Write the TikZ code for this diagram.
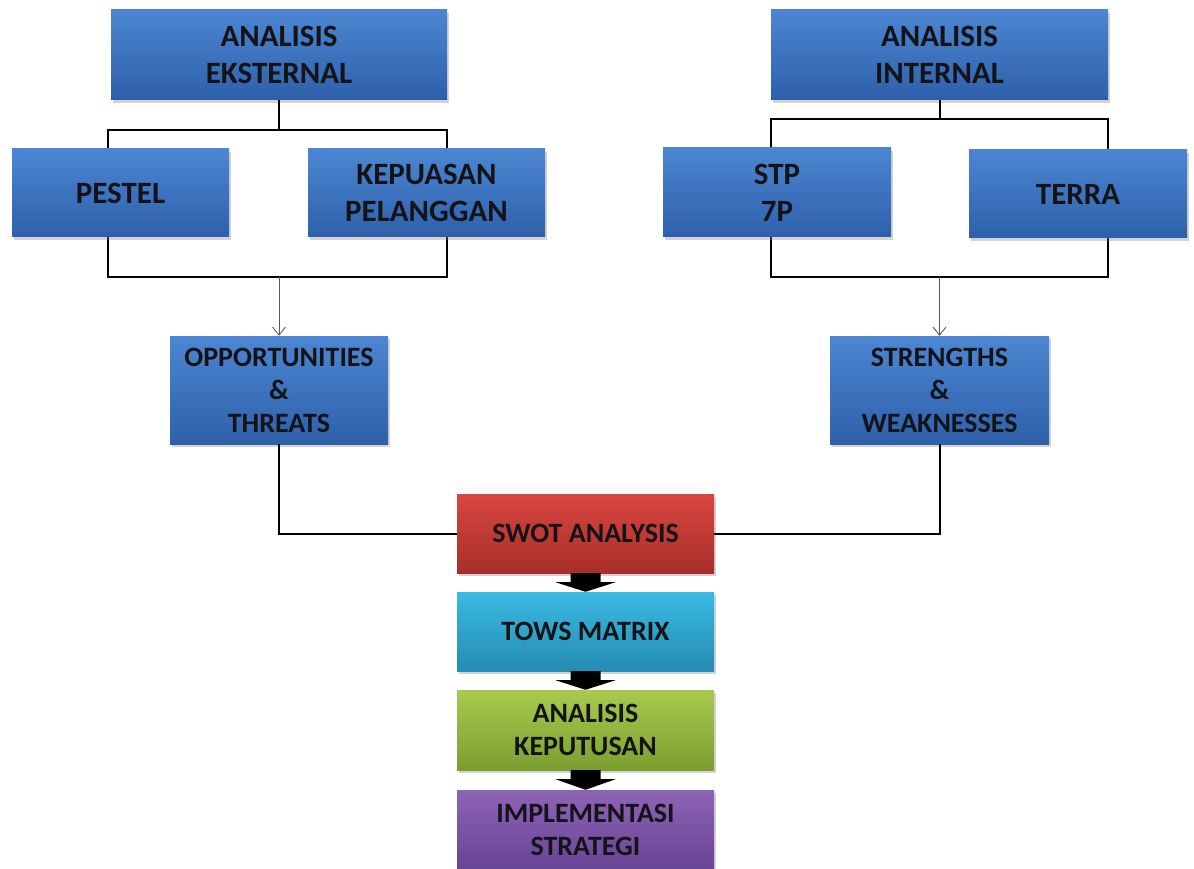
\documentclass[tikz,border=0pt]{standalone}
\usepackage{fontspec}
\setmainfont{Carlito}
\usetikzlibrary{arrows.meta,shadows,shadings}
\definecolor{bluetop}{RGB}{76,134,210}
\definecolor{bluebot}{RGB}{46,96,170}
\definecolor{redtop}{RGB}{216,70,64}
\definecolor{redbot}{RGB}{168,46,42}
\definecolor{cyantop}{RGB}{58,186,226}
\definecolor{cyanbot}{RGB}{38,140,178}
\definecolor{greentop}{RGB}{168,202,78}
\definecolor{greenbot}{RGB}{124,158,48}
\definecolor{purptop}{RGB}{142,100,182}
\definecolor{purpbot}{RGB}{104,68,148}
\definecolor{txt}{RGB}{20,20,24}
\definecolor{thin}{RGB}{90,90,90}
\begin{document}
\begin{tikzpicture}[x=1pt,y=-1pt,
  box/.style={rectangle, draw=none, align=center, inner sep=0pt,
    text=txt, font=\fontsize{31}{37}\selectfont\bfseries,
    drop shadow={opacity=0.35, shadow xshift=2pt, shadow yshift=-3pt}},
  bluebox/.style={box, top color=bluetop, bottom color=bluebot},
  small/.style={font=\fontsize{28}{33}\selectfont\bfseries},
  bracket/.style={draw=black, line width=2pt},
  thinarrow/.style={draw=thin, line width=0.9pt, -{Straight Barb[length=8pt,width=13pt]}},
  blockarrow/.style={fill=black, draw=none}
]
\useasboundingbox (0,0) rectangle (1194,869);

% top boxes
\node[bluebox, minimum width=336pt, minimum height=90pt] (ext) at (279,55) {ANALISIS\\EKSTERNAL};
\node[bluebox, minimum width=337pt, minimum height=90pt] (int) at (939.5,55) {ANALISIS\\INTERNAL};

% bracket connectors (drawn before middle boxes)
\coordinate (et) at (279,130);
\coordinate (etl) at (108,130);
\coordinate (etr) at (447,130);
\coordinate (it) at (939.5,119);
\coordinate (itl) at (771,119);
\coordinate (itr) at (1108,119);
\coordinate (eb) at (279,277);
\coordinate (ebl) at (108,277);
\coordinate (ebr) at (447,277);
\coordinate (ib) at (939.5,277);
\coordinate (ibl) at (771,277);
\coordinate (ibr) at (1108,277);

\draw[bracket] (ext.south) -- (et);
\draw[bracket] (int.south) -- (it);
\draw[bracket] (etl |- 0,160) -- (etl) -- (etr) -- (etr |- 0,160);
\draw[bracket] (itl |- 0,160) -- (itl) -- (itr) -- (itr |- 0,160);
\draw[bracket] (etl |- 0,220) -- (ebl) -- (ebr) -- (ebr |- 0,220);
\draw[bracket] (itl |- 0,220) -- (ibl) -- (ibr) -- (ibr |- 0,220);

% second row
\node[bluebox, minimum width=217pt, minimum height=88pt] (pestel) at (120.5,193) {PESTEL};
\node[bluebox, minimum width=237pt, minimum height=88pt] (kep) at (426.5,193) {KEPUASAN\\PELANGGAN};
\node[bluebox, minimum width=228pt, minimum height=89pt] (stp) at (777,192.5) {STP\\7P};
\node[bluebox, minimum width=218pt, minimum height=88pt] (terra) at (1078,194) {TERRA};

% third row
\node[bluebox, small, minimum width=218pt, minimum height=108pt] (ot) at (279,390) {OPPORTUNITIES\\\&\\THREATS};
\node[bluebox, small, minimum width=219pt, minimum height=108pt] (sw) at (939.5,390) {STRENGTHS\\\&\\WEAKNESSES};

\draw[thinarrow] (eb) -- (ot.north);
\draw[thinarrow] (ib) -- (sw.north);

% bottom column
\node[box, small, top color=redtop, bottom color=redbot, minimum width=257pt, minimum height=79pt] (swot) at (585.5,533.5) {SWOT ANALYSIS};
\node[box, small, top color=cyantop, bottom color=cyanbot, minimum width=257pt, minimum height=79pt] (tows) at (585.5,631.5) {TOWS MATRIX};
\node[box, small, top color=greentop, bottom color=greenbot, minimum width=257pt, minimum height=80pt] (ak) at (585.5,730) {ANALISIS\\KEPUTUSAN};
\node[box, small, top color=purptop, bottom color=purpbot, minimum width=257pt, minimum height=79pt] (imp) at (585.5,829.5) {IMPLEMENTASI\\STRATEGI};

\draw[bracket] (ot.south) |- (swot.west);
\draw[bracket] (sw.south) |- (swot.east);

% block arrows
\foreach \a/\b in {swot/tows, tows/ak, ak/imp}{
  \fill[blockarrow] ([xshift=-15pt]\a.south) -- ++(0,9) -- ++(-15,0)
     -- (\b.north) -- ([xshift=30pt,yshift=-9pt]\a.south) -- ++(-15,0)
     -- ([xshift=15pt]\a.south) -- cycle;
}
\end{tikzpicture}
\end{document}
